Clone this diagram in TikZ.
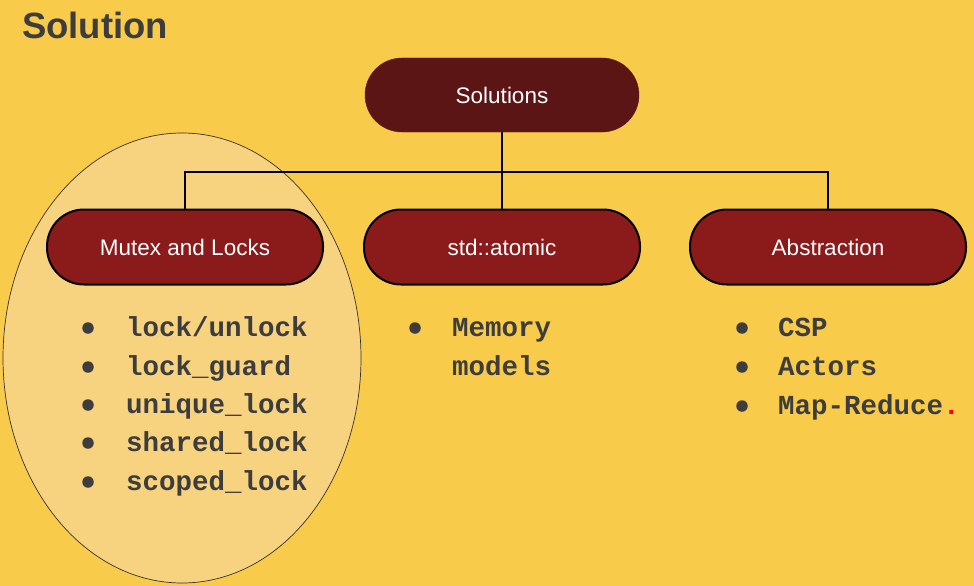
\documentclass[tikz,border=0pt]{standalone}
\usepackage{fontspec}
\setmainfont{Liberation Sans}
\setmonofont{Liberation Mono}
\definecolor{bg}{HTML}{F9CB4B}
\definecolor{ellfill}{HTML}{F7D27F}
\definecolor{darknode}{HTML}{5C1515}
\definecolor{rednode}{HTML}{8B1A1A}
\definecolor{txtgray}{HTML}{3D3D3D}
\tikzset{
  rootbox/.style={rectangle, rounded corners=37pt, minimum width=274pt, minimum height=74pt,
    fill=darknode, draw=darknode, text=white, font=\fontsize{22.5}{26}\selectfont, inner sep=0pt},
  childbox/.style={rectangle, rounded corners=37pt, minimum width=276pt, minimum height=75pt,
    fill=rednode, draw=black, line width=2pt, text=white, font=\fontsize{22.5}{26}\selectfont, inner sep=0pt},
  itemtext/.style={anchor=base west, inner sep=0pt, text=txtgray, font=\ttfamily\bfseries\fontsize{27.5}{32}\selectfont},
  bulletdot/.style={circle, fill=txtgray, minimum size=11.5pt, inner sep=0pt},
  link/.style={draw=black, line width=2pt},
}
\begin{document}
\begin{tikzpicture}[x=1pt,y=-1pt]
\useasboundingbox (0,0) rectangle (974,586);
\fill[bg] (0,0) rectangle (974,586);
\node[anchor=base west, inner sep=0pt, text=txtgray, font=\bfseries\fontsize{36.5}{40}\selectfont] (title) at (22,39) {Solution};
\draw[fill=ellfill, draw=black!80, line width=0.7pt] (182,358) ellipse [x radius=179, y radius=225];
\node[rootbox] (sol) at (502,95) {Solutions};
\node[childbox] (mutex) at (185,247) {Mutex and Locks};
\node[childbox] (atom) at (502,247) {std::atomic};
\node[childbox] (abs) at (828,247) {Abstraction};
\coordinate (bar) at (502,172);
\draw[link] (sol.south) -- (atom.north);
\draw[link] (mutex.north) |- (bar) -| (abs.north);
\node[bulletdot] (b1) at (88,328) {};
\node[bulletdot] (b2) at (88,367) {};
\node[bulletdot] (b3) at (88,405) {};
\node[bulletdot] (b4) at (88,443) {};
\node[bulletdot] (b5) at (88,482) {};
\node[itemtext] (t1) at (126,336) {lock/unlock};
\node[itemtext] (t2) at (126,375) {lock\_guard};
\node[itemtext] (t3) at (126,413) {unique\_lock};
\node[itemtext] (t4) at (126,451) {shared\_lock};
\node[itemtext] (t5) at (126,490) {scoped\_lock};
\node[bulletdot] (m1) at (415,328) {};
\node[itemtext] (mt1) at (452,336) {Memory};
\node[itemtext] (mt2) at (452,375) {models};
\node[bulletdot] (a1) at (742,328) {};
\node[bulletdot] (a2) at (742,367) {};
\node[bulletdot] (a3) at (742,406) {};
\node[itemtext] (at1) at (778,336) {CSP};
\node[itemtext] (at2) at (778,375) {Actors};
\node[itemtext] (at3) at (778,414) {Map-Reduce{\color{red}.}};
\end{tikzpicture}
\end{document}
